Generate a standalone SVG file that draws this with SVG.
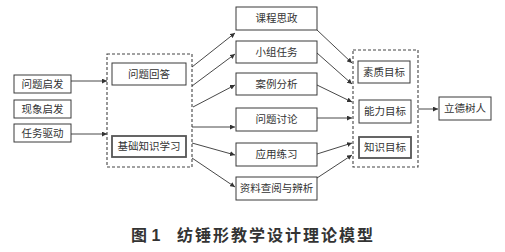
<svg xmlns="http://www.w3.org/2000/svg" width="505" height="252" viewBox="0 0 505 252">
<defs>
<style>
.box{fill:#fff;stroke:#3a3a3a;stroke-width:1}
.box2{fill:#fff;stroke:#555;stroke-width:1.8}
.dash{fill:none;stroke:#444;stroke-width:1.1;stroke-dasharray:3,2}
.t{font-family:"Liberation Serif","Noto Sans CJK SC",serif;font-size:10.5px;fill:#333;text-anchor:middle;dominant-baseline:central}
.cap{font-family:"Liberation Sans","Noto Sans CJK SC",sans-serif;font-size:16px;font-weight:bold;fill:#333}
.c line{stroke:#333;stroke-width:0.9;marker-end:url(#ah)}
</style>
<marker id="ah" markerUnits="userSpaceOnUse" markerWidth="6" markerHeight="5" refX="5" refY="2.5" orient="auto">
<path d="M0,0 L5,2.5 L0,5 Z" fill="#333"/>
</marker>
</defs>
<rect width="505" height="252" fill="#fff"/>

<g id="left-group"><rect class="dash" x="107" y="54" width="85" height="113"/></g>
<g id="right-group"><rect class="dash" x="353" y="50" width="65" height="117"/></g>

<g id="n1"><rect class="box" x="14" y="75" width="57" height="18"/><text class="t" x="42.5" y="84">问题启发</text></g>
<g id="n2"><rect class="box" x="14" y="100" width="57" height="18"/><text class="t" x="42.5" y="109">现象启发</text></g>
<g id="n3"><rect class="box" x="14" y="124" width="57" height="18"/><text class="t" x="42.5" y="133">任务驱动</text></g>

<g id="n4"><rect class="box" x="112" y="63" width="74" height="22"/><text class="t" x="149" y="74">问题回答</text></g>
<g id="n5"><rect class="box2" x="112" y="136" width="74" height="21"/><text class="t" x="149" y="146.5">基础知识学习</text></g>

<g id="m1"><rect class="box" x="236" y="7" width="81" height="23"/><text class="t" x="276.5" y="18.5">课程思政</text></g>
<g id="m2"><rect class="box" x="236" y="41" width="81" height="22"/><text class="t" x="276.5" y="52">小组任务</text></g>
<g id="m3"><rect class="box" x="236" y="73" width="81" height="22"/><text class="t" x="276.5" y="84">案例分析</text></g>
<g id="m4"><rect class="box" x="236" y="108" width="81" height="23"/><text class="t" x="276.5" y="119.5">问题讨论</text></g>
<g id="m5"><rect class="box" x="236" y="143" width="81" height="23"/><text class="t" x="276.5" y="154.5">应用练习</text></g>
<g id="m6"><rect class="box" x="236" y="177" width="81" height="23"/><text class="t" x="276.5" y="188.5">资料查阅与辨析</text></g>

<g id="g1"><rect class="box" x="358" y="61" width="52" height="22"/><text class="t" x="384" y="72">素质目标</text></g>
<g id="g2"><rect class="box" x="359" y="100" width="52" height="23"/><text class="t" x="385" y="111.5">能力目标</text></g>
<g id="g3"><rect class="box2" x="359" y="137" width="52" height="21"/><text class="t" x="385" y="147.5">知识目标</text></g>

<g id="r1"><rect class="box" x="439" y="97" width="52" height="23"/><text class="t" x="465" y="108.5">立德树人</text></g>

<g id="connectors" class="c">
<line x1="71" y1="81" x2="107" y2="81"/>
<line x1="71" y1="134" x2="107" y2="134"/>
<line x1="192" y1="67" x2="235" y2="33"/>
<line x1="192" y1="86" x2="235" y2="54"/>
<line x1="193" y1="107" x2="235" y2="85"/>
<line x1="192" y1="127" x2="235" y2="127"/>
<line x1="192" y1="143" x2="235" y2="155"/>
<line x1="192" y1="158" x2="235" y2="187"/>
<line x1="317" y1="30" x2="352" y2="63"/>
<line x1="317" y1="53" x2="352" y2="84"/>
<line x1="317" y1="85" x2="352" y2="102"/>
<line x1="317" y1="118" x2="352" y2="118"/>
<line x1="317" y1="154" x2="352" y2="143"/>
<line x1="317" y1="178" x2="352" y2="155"/>
<line x1="418" y1="109" x2="438" y2="109"/>
</g>

<text class="cap" x="131" y="241">图 1<tspan x="177" textLength="196" lengthAdjust="spacing">纺锤形教学设计理论模型</tspan></text>
</svg>
